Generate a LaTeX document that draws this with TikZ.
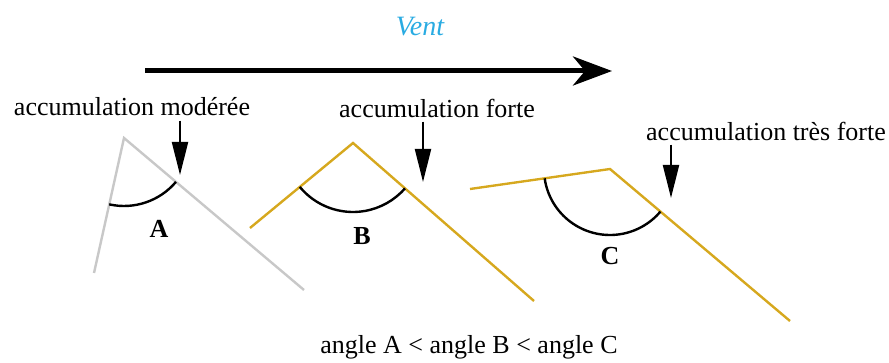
\documentclass[tikz,border=0pt]{standalone}
\usepackage{fontspec}
\setmainfont{Liberation Serif}
\usetikzlibrary{arrows.meta,angles}
\definecolor{ventblue}{RGB}{41,171,226}
\definecolor{snowgold}{RGB}{214,168,30}
\definecolor{crestgray}{RGB}{200,200,200}

\begin{document}
\begin{tikzpicture}[x=0.5pt,y=-0.5pt,
    accnote/.style={font=\fontsize{13}{15}\selectfont, inner sep=0pt},
    letter/.style={font=\fontsize{13}{15}\selectfont\bfseries, inner sep=0pt},
    ridge/.style={line width=1.2pt, line join=miter},
    arcmark/.style={draw, line width=1.2pt},
    pointer/.style={line width=1pt, -{Triangle[length=16.5pt,width=8pt]}}]
    \useasboundingbox (0,0) rectangle (889,363);

    % Vent
    \node[font=\fontsize{14}{16}\selectfont\itshape, text=ventblue] (vent) at (420,27) {Vent};
    \coordinate (ventstart) at (145,71);
    \coordinate (ventend) at (612,71);
    \draw[line width=2.5pt, -{Stealth[length=19.5pt,width=14.5pt,inset=6pt]}] (ventstart) -- (ventend);

    % A
    \begin{scope}
        \coordinate (leftA) at (94,273);
        \coordinate (apexA) at (124,138);
        \coordinate (rightA) at (304,290);
        \draw[ridge, crestgray] (leftA) -- (apexA) -- (rightA);
        \pic[arcmark, angle radius=34pt] {angle = leftA--apexA--rightA};
        \node[letter] (angA) at (159,229) {A};
        \node[accnote] (accA) at (132,107) {accumulation modérée};
        \coordinate (tipA) at (180,175);
        \draw[pointer] ([yshift=-2pt]accA.south -| tipA) -- (tipA);
    \end{scope}

    % B
    \begin{scope}
        \coordinate (leftB) at (250,228);
        \coordinate (apexB) at (353,143);
        \coordinate (rightB) at (534,301);
        \draw[ridge, snowgold] (leftB) -- (apexB) -- (rightB);
        \pic[arcmark, angle radius=34.5pt] {angle = leftB--apexB--rightB};
        \node[letter] (angB) at (362,236) {B};
        \node[accnote] (accB) at (437,108) {accumulation forte};
        \coordinate (tipB) at (423,182);
        \draw[pointer] ([yshift=-2pt]accB.south -| tipB) -- (tipB);
    \end{scope}

    % C
    \begin{scope}
        \coordinate (leftC) at (470,189);
        \coordinate (apexC) at (610,169);
        \coordinate (rightC) at (790,321);
        \draw[ridge, snowgold] (leftC) -- (apexC) -- (rightC);
        \pic[arcmark, angle radius=33pt] {angle = leftC--apexC--rightC};
        \node[letter] (angC) at (610,256) {C};
        \node[accnote] (accC) at (766,131) {accumulation très forte};
        \coordinate (tipC) at (671,198);
        \draw[pointer] ([yshift=-2pt]accC.south -| tipC) -- (tipC);
    \end{scope}

    \node[accnote] (compare) at (469,347) {angle A < angle B < angle C};
\end{tikzpicture}
\end{document}
